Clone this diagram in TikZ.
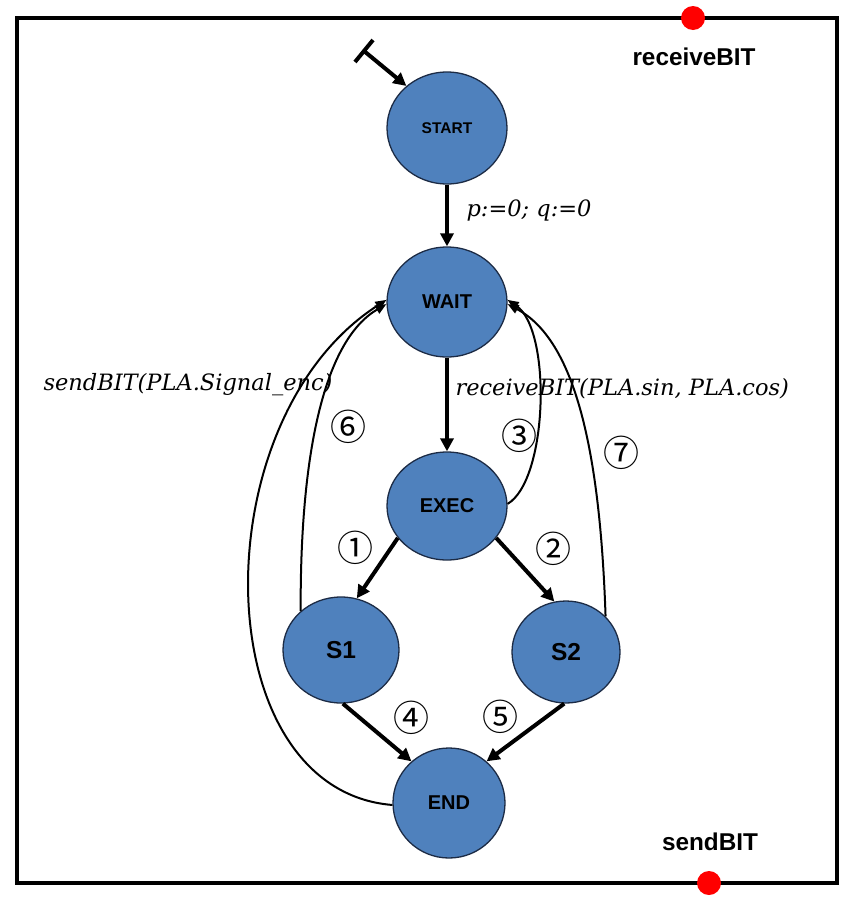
\documentclass[tikz,border=0pt]{standalone}
\usepackage{fontspec}
\setmainfont{Liberation Serif}
\setsansfont{Liberation Sans}
\newfontfamily\lblfont{DejaVu Serif}
\newfontfamily\circfont{Noto Sans CJK SC}
\usetikzlibrary{shapes.geometric,arrows.meta}
\definecolor{stfill}{HTML}{4F81BD}
\definecolor{stdraw}{HTML}{1C2B45}
\tikzset{
  state/.style={ellipse,draw=stdraw,line width=1.3pt,fill=stfill,inner sep=0pt,font=\sffamily\bfseries},
  thickarr/.style={line width=4pt,-{Triangle[length=13pt,width=13pt]}},
  thinarr/.style={line width=2pt,-{Triangle[length=11pt,width=9pt]}},
  circ/.style={font=\circfont\fontsize{36}{36}\selectfont},
  trans/.style={font=\lblfont\itshape\fontsize{22.5}{22.5}\selectfont},
  port/.style={circle,fill=red,inner sep=0pt,minimum size=24pt},
  portlbl/.style={font=\sffamily\bfseries\fontsize{24.3}{24.3}\selectfont}
}
\begin{document}
\begin{tikzpicture}[x=1pt,y=-1pt]
\useasboundingbox (0,0) rectangle (861,908);
\node[draw,line width=4pt,minimum width=820pt,minimum height=865pt,inner sep=0pt] (frame) at (427,450.5) {};
\node[port] (rx) at (693,18) {};
\node[port] (tx) at (709,883) {};
\node[portlbl] (rxl) at (694,57) {receiveBIT};
\node[portlbl] (txl) at (710,842) {sendBIT};

\node[state,minimum width=120pt,minimum height=112pt,font=\sffamily\bfseries\fontsize{15.5}{15.5}\selectfont] (start) at (447,128) {START};
\node[state,minimum width=120pt,minimum height=110pt,font=\sffamily\bfseries\fontsize{20}{20}\selectfont] (wait) at (447,302) {WAIT};
\node[state,minimum width=120pt,minimum height=108pt,font=\sffamily\bfseries\fontsize{20}{20}\selectfont] (exec) at (447,506) {EXEC};
\node[state,minimum width=116pt,minimum height=106pt,font=\sffamily\bfseries\fontsize{24.5}{24.5}\selectfont] (s1) at (341,650) {S1};
\node[state,minimum width=108pt,minimum height=102pt,font=\sffamily\bfseries\fontsize{24.5}{24.5}\selectfont] (s2) at (566,652) {S2};
\node[state,minimum width=112pt,minimum height=110pt,font=\sffamily\bfseries\fontsize{20}{20}\selectfont] (end) at (449,803) {END};

% initial
\coordinate (i1) at (355,62);
\coordinate (i2) at (373,40);
\coordinate (im) at (364,51);
\draw[line width=4pt] (i1) -- (i2);
\draw[line width=4pt,-{Triangle[length=13pt,width=13pt]}] (im) -- (start.134);

\draw[thickarr] (start.south) -- (wait.north);
\draw[thickarr] (wait.south) -- (exec.north);
\draw[thickarr] (exec.213) -- (s1.73);
\draw[thickarr] (exec.327) -- (s2.103);
\draw[thickarr] (s1.272) -- (end.132);
\draw[thickarr] (s2.268) -- (end.48);

\draw[thinarr] (exec.2) .. controls (548,480) and (552,330) .. (wait.2);
\draw[thinarr] (s2.42) .. controls (600,450) and (575,340) .. (wait.-2);
\draw[thinarr] (s1.136) .. controls (300,450) and (325,340) .. (wait.182);
\draw[thinarr] (end.182) .. controls (205,790) and (200,420) .. (wait.178);

\node[trans,anchor=west] (l1) at (463,210) {p:=0; q:=0};
\node[trans,anchor=west] (l2) at (452,389) {receiveBIT(PLA.sin, PLA.cos)};
\node[trans] (l3) at (188,385) {sendBIT(PLA.Signal\_enc)};

\node[circ] (c1) at (355,548) {①};
\node[circ] (c2) at (553,549) {②};
\node[circ] (c3) at (519,436) {③};
\node[circ] (c4) at (411,718) {④};
\node[circ] (c5) at (500,717) {⑤};
\node[circ] (c6) at (348,427) {⑥};
\node[circ] (c7) at (621,453) {⑦};
\end{tikzpicture}
\end{document}
